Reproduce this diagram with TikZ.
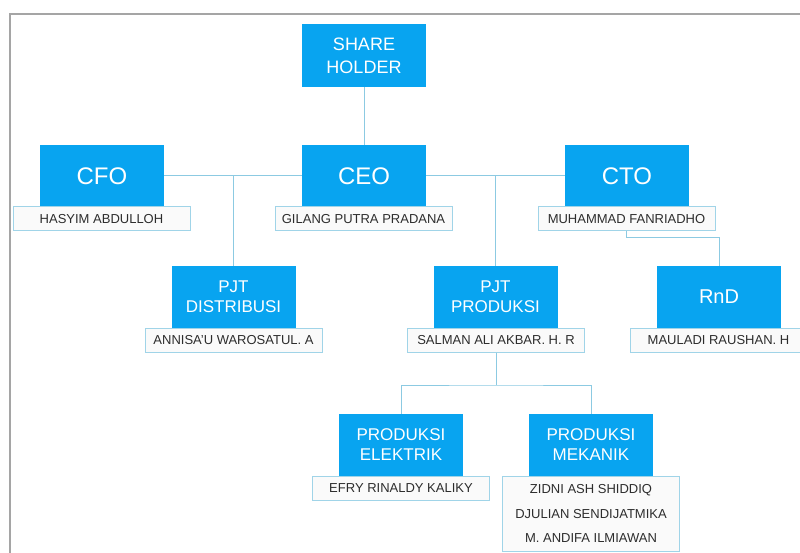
\documentclass[tikz,border=0pt]{standalone}
\usepackage{fontspec}
\setmainfont{Liberation Sans}
\definecolor{boxblue}{RGB}{8,164,240}
\definecolor{nameborder}{RGB}{160,212,232}
\definecolor{namefill}{RGB}{250,250,250}
\definecolor{linkcol}{RGB}{140,202,226}
\definecolor{framecol}{RGB}{165,165,165}
\definecolor{nametext}{RGB}{45,45,45}
\tikzset{
  rolebox/.style={fill=boxblue, text=white, minimum width=124pt, minimum height=62pt, inner sep=0pt, align=center},
  bigrole/.style={rolebox, font=\fontsize{24}{28}\selectfont},
  midrole/.style={rolebox, font=\fontsize{17}{20}\selectfont},
  namebox/.style={draw=nameborder, line width=1pt, fill=namefill, text=nametext, minimum width=177pt, minimum height=24pt, inner sep=0pt, font=\fontsize{13}{15}\selectfont, align=center},
  link/.style={draw=linkcol, line width=1pt},
}
\begin{document}
\begin{tikzpicture}[x=1pt,y=-1pt]
\path[fill=white] (0,0) rectangle (800,553);
\useasboundingbox (0,0) rectangle (800,553);
\begin{scope}
\clip (0,0) rectangle (800,553);
\draw[framecol, line width=1.5pt] (10,553) -- (10,14) -- (800,14);

% role boxes
\node[rolebox, minimum height=63pt, font=\fontsize{18}{23}\selectfont] (sh) at (364,55.5) {SHARE\\HOLDER};
\node[bigrole] (cfo) at (102,176) {CFO};
\node[bigrole] (ceo) at (364,176) {CEO};
\node[bigrole] (cto) at (627,176) {CTO};
\node[namebox] (hasyim) at (101.5,219) {HASYIM ABDULLOH};
\node[namebox] (gilang) at (363.5,219) {GILANG PUTRA PRADANA};
\node[namebox] (muhammad) at (626.5,219) {MUHAMMAD FANRIADHO};

\node[midrole] (pjtd) at (233.5,297) {PJT\\DISTRIBUSI};
\node[midrole] (pjtp) at (495.5,297) {PJT\\PRODUKSI};
\node[rolebox, font=\fontsize{20}{24}\selectfont] (rnd) at (719,297) {RnD};
\node[namebox] (annisa) at (233.5,340) {ANNISA'U WAROSATUL. A};
\node[namebox] (salman) at (496,340) {SALMAN ALI AKBAR. H. R};
\node[namebox] (mauladi) at (718.5,340) {MAULADI RAUSHAN. H};

\node[midrole] (elek) at (401,445) {PRODUKSI\\ELEKTRIK};
\node[midrole] (mek) at (591,445) {PRODUKSI\\MEKANIK};
\node[namebox] (efry) at (401,488.5) {EFRY RINALDY KALIKY};
\node[namebox, minimum height=75pt, font=\fontsize{13}{24.5}\selectfont] (meknames) at (591,513.5) {ZIDNI ASH SHIDDIQ\\DJULIAN SENDIJATMIKA\\M. ANDIFA ILMIAWAN};

% connectors
\path[link] (sh.south) -- (ceo.north);
\path[link] (cfo.east) -- (ceo.west);
\path[link] (ceo.east) -- (cto.west);
\path[link] (pjtd.north) -- (pjtd.north |- cfo.east);
\path[link] (pjtp.north) -- (pjtp.north |- ceo.east);
\path[link] (muhammad.south) -- ([yshift=-6pt]muhammad.south) -| (rnd.north);
\coordinate (split) at (496,385);
\path[link] (salman.south) -- (split);
\path[link] (elek.north) |- (split) -| (mek.north);
\end{scope}
\end{tikzpicture}
\end{document}
